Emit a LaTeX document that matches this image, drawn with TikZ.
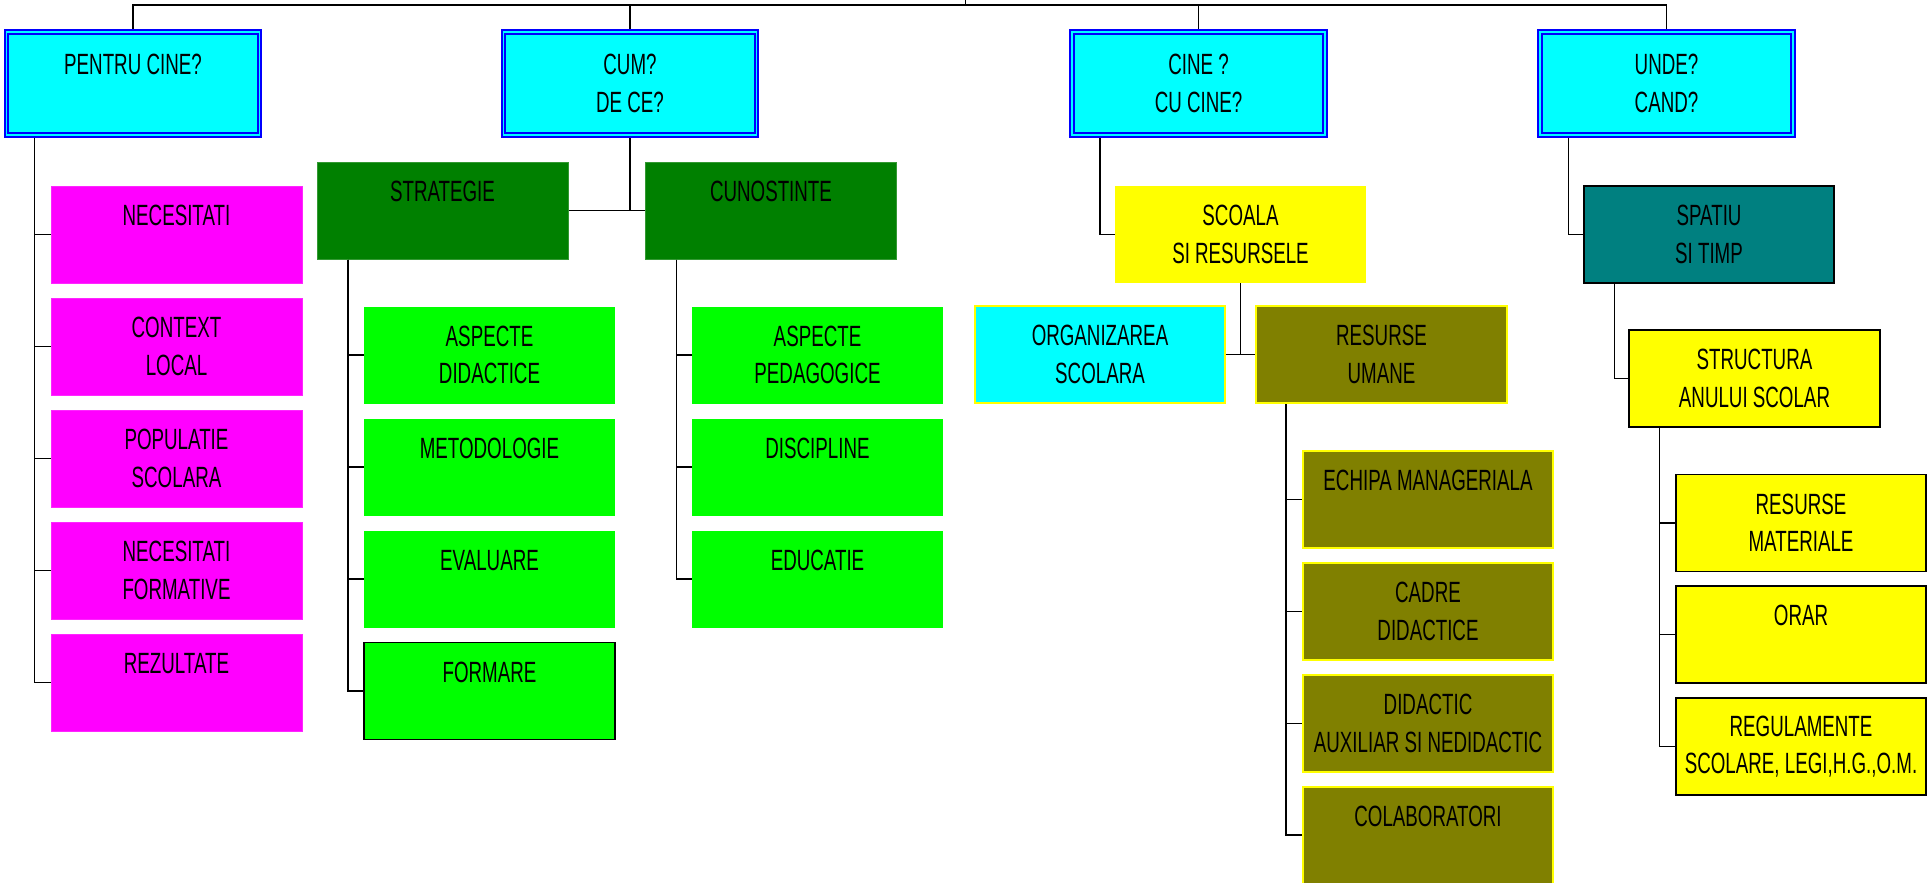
\documentclass[tikz,border=0pt]{standalone}
\usepackage{fontspec}
\newfontfamily\diagfont{Liberation Sans}[FakeStretch=0.64]
\definecolor{qcyan}{RGB}{0,255,255}
\definecolor{qblue}{RGB}{0,0,255}
\definecolor{qmagenta}{RGB}{255,0,255}
\definecolor{qyellow}{RGB}{255,255,0}
\definecolor{qolive}{RGB}{128,128,0}
\definecolor{qteal}{RGB}{0,128,128}
\definecolor{qdgreen}{RGB}{0,128,0}
\definecolor{qgreen}{RGB}{0,255,0}
\begin{document}
\begin{tikzpicture}[x=1pt,y=-1pt,
	cell/.style={minimum width=251pt, minimum height=97pt, inner sep=0pt, align=center, text=black, font=\diagfont\fontsize{29.3}{37.5}\selectfont},
	qbox/.style={cell, minimum width=253pt, minimum height=103pt, outer sep=3pt, fill=qcyan, draw=qblue, double=qcyan, double distance=1.5pt, line width=2.2pt},
	pinkbox/.style={cell, fill=qmagenta, draw=qmagenta!85!white, line width=1pt},
	dgreenbox/.style={cell, fill=qdgreen, draw=qdgreen!80!white, line width=1pt},
	greenbox/.style={cell, fill=qgreen},
	yellowbox/.style={cell, fill=qyellow, draw=black, line width=1.5pt},
	olivebox/.style={cell, fill=qolive, draw=qyellow, line width=2pt},
	link/.style={line width=1.5pt}]
	\useasboundingbox (0,0) rectangle (1932,883);
	\node[qbox] (pentru) at (133,83.5) {PENTRU CINE?\\\mbox{}};
	\node[qbox] (cum) at (630,83.5) {CUM?\\DE CE?};
	\node[qbox] (cine) at (1198.5,83.5) {CINE ?\\CU CINE?};
	\node[qbox] (unde) at (1666.5,83.5) {UNDE?\\CAND?};

	\node[pinkbox] (nec) at (176.5,234.5) {NECESITATI\\\mbox{}};
	\node[pinkbox] (ctx) at (176.5,346.5) {CONTEXT\\LOCAL};
	\node[pinkbox] (pop) at (176.5,458.5) {POPULATIE\\SCOLARA};
	\node[pinkbox] (nform) at (176.5,570.5) {NECESITATI\\FORMATIVE};
	\node[pinkbox] (rez) at (176.5,682.5) {REZULTATE\\\mbox{}};

	\node[dgreenbox] (strat) at (442.5,210.5) {STRATEGIE\\\mbox{}};
	\node[dgreenbox] (cuno) at (771,210.5) {CUNOSTINTE\\\mbox{}};
	\node[greenbox] (asdid) at (489.5,355) {ASPECTE\\DIDACTICE};
	\node[greenbox] (metod) at (489.5,467) {METODOLOGIE\\\mbox{}};
	\node[greenbox] (eval) at (489.5,579) {EVALUARE\\\mbox{}};
	\node[greenbox, draw=black, line width=1.5pt] (formare) at (489.5,691) {FORMARE\\\mbox{}};
	\node[greenbox] (aspeda) at (817.5,355) {ASPECTE\\PEDAGOGICE};
	\node[greenbox] (disc) at (817.5,467) {DISCIPLINE\\\mbox{}};
	\node[greenbox] (educ) at (817.5,579) {EDUCATIE\\\mbox{}};

	\node[cell, fill=qyellow] (scoala) at (1240.5,234.5) {SCOALA\\SI RESURSELE};
	\node[cell, minimum width=250pt, fill=qcyan, draw=qyellow, line width=1.5pt] (org) at (1100,354.5) {ORGANIZAREA\\SCOLARA};
	\node[olivebox] (resum) at (1381.5,354.5) {RESURSE\\UMANE};
	\node[olivebox, minimum width=250pt] (echipa) at (1428,499.5) {ECHIPA MANAGERIALA\\\mbox{}};
	\node[olivebox, minimum width=250pt] (cadre) at (1428,611.5) {CADRE\\DIDACTICE};
	\node[olivebox, minimum width=250pt] (didaux) at (1428,723.5) {DIDACTIC\\AUXILIAR SI NEDIDACTIC};
	\node[olivebox, minimum width=250pt] (colab) at (1428,835) {COLABORATORI\\\mbox{}};

	\node[cell, minimum width=250pt, fill=qteal, draw=black, line width=1.5pt] (spatiu) at (1709,234.5) {SPATIU\\SI TIMP};
	\node[yellowbox] (struct) at (1754.5,378.5) {STRUCTURA\\ANULUI SCOLAR};
	\node[yellowbox, minimum width=250pt] (resmat) at (1801,523) {RESURSE\\MATERIALE};
	\node[yellowbox, minimum width=250pt] (orar) at (1801,634.5) {ORAR\\\mbox{}};
	\node[yellowbox, minimum width=250pt] (regul) at (1801,746.5) {REGULAMENTE\\SCOLARE, LEGI,H.G.,O.M.};

	\coordinate (top) at (965,5);
	\draw[link] (pentru.north) |- (top) -| (unde.north);
	\draw[link] (cum.north) -- (cum.north |- top);
	\draw[link] (cine.north) -- (cine.north |- top);
	\draw[line width=1pt] (top) -- ++(0,-5);

	\foreach \c in {nec,ctx,pop,nform,rez}
		\draw[link] ([xshift=31pt]pentru.south west) |- (\c.west);
	\draw[link] (strat.east) -- (cuno.west);
	\draw[link] (cum.south) -- (cum.south |- strat.east);
	\foreach \c in {asdid,metod,eval,formare}
		\draw[link] ([xshift=31.5pt]strat.south west) |- (\c.west);
	\foreach \c in {aspeda,disc,educ}
		\draw[link] ([xshift=31.5pt]cuno.south west) |- (\c.west);

	\draw[link] ([xshift=31pt]cine.south west) |- (scoala.west);
	\draw[link] (org.east) -- (resum.west);
	\draw[link] (scoala.south) -- (scoala.south |- org.east);
	\foreach \c in {echipa,cadre,didaux,colab}
		\draw[link] ([xshift=31pt]resum.south west) |- (\c.west);

	\draw[link] ([xshift=31.5pt]unde.south west) |- (spatiu.west);
	\draw[link] ([xshift=31pt]spatiu.south west) |- (struct.west);
	\foreach \c in {resmat,orar,regul}
		\draw[link] ([xshift=31pt]struct.south west) |- (\c.west);
\end{tikzpicture}
\end{document}
